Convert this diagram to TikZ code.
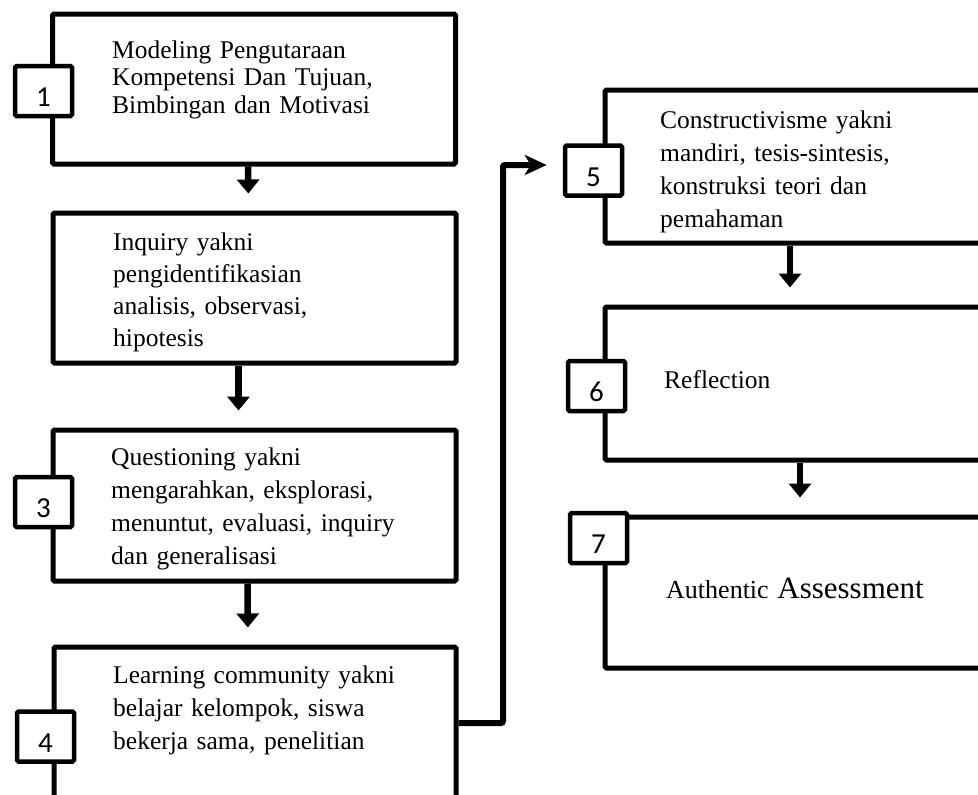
\documentclass[tikz,border=0pt]{standalone}
\usepackage{fontspec}
\setmainfont{Liberation Serif}
\newfontfamily\numfont{Carlito}
\usetikzlibrary{arrows.meta}

\begin{document}
\begin{tikzpicture}[x=1pt, y=-1pt,
    leftbox/.style={draw, line width=5pt, rounded corners=1.5pt, minimum width=403pt, minimum height=150pt, inner sep=0pt},
    rightbox/.style={draw, line width=5pt, rounded corners=1.5pt, minimum width=390pt, minimum height=153pt, inner sep=0pt},
    numbox/.style={draw, fill=white, line width=4.5pt, rounded corners=1.5pt, minimum width=57pt, minimum height=50pt, inner sep=0pt, text height=31pt, text depth=0pt, font=\numfont\fontsize{29}{30}\selectfont},
    steptext/.style={anchor=base west, align=left, inner sep=0pt, text width=330pt, font=\fontsize{25.5}{33}\selectfont},
    flow/.style={line width=6.5pt, -{Triangle[width=22pt,length=14pt]}, shorten >=17pt},
    link/.style={line width=6pt, rounded corners=2pt, -{Stealth[length=22pt,width=20pt,inset=6pt]}, shorten >=16pt}]
      \path [use as bounding box] (0,0) rectangle (978,795);
      \clip (0,0) rectangle (978,795);

      \node [leftbox] (box1) at (254,89) {};
      \node [leftbox] (box2) at (254.5,288) {};
      \node [leftbox, minimum height=151pt] (box3) at (254.5,505.5) {};
      \node [leftbox, minimum height=152pt, minimum width=402pt] (box4) at (255,723) {};
      \node [rightbox] (box5) at (800,166.5) {};
      \node [rightbox] (box6) at (800,383.5) {};
      \node [rightbox, minimum height=151pt] (box7) at (800,592.5) {};

      \node [steptext, font=\fontsize{25.5}{27.5}\selectfont] (text1) at (112,58) {Modeling Pengutaraan\\Kompetensi Dan Tujuan,\\Bimbingan dan Motivasi};
      \node [steptext, font=\fontsize{25.5}{32.2}\selectfont] (text2) at (113,250) {Inquiry yakni\\pengidentifikasian\\analisis, observasi,\\hipotesis};
      \node [steptext] (text3) at (111,465) {Questioning yakni\\mengarahkan, eksplorasi,\\menuntut, evaluasi, inquiry\\dan generalisasi};
      \node [steptext] (text4) at (113,683) {Learning community yakni\\belajar kelompok, siswa\\bekerja sama, penelitian};
      \node [steptext] (text5) at (660,128) {Constructivisme yakni\\mandiri, tesis-sintesis,\\konstruksi teori dan\\pemahaman};
      \node [steptext] (text6) at (664,388) {Reflection};
      \node [steptext, font=\fontsize{26}{33}\selectfont] (text7) at (666,598) {Authentic {\fontsize{31}{33}\selectfont Assessment}};

      \node [numbox] (num1) at (43.5,91) {1};
      \node [numbox] (num3) at (43.5,502) {3};
      \node [numbox] (num4) at (45.5,736.5) {4};
      \node [numbox] (num5) at (593.5,170.5) {5};
      \node [numbox] (num6) at (596.5,386) {6};
      \node [numbox] (num7) at (598.5,538) {7};

      \draw [flow] ([xshift=-6pt]box1.south) -- ([xshift=-6pt]box2.north);
      \draw [flow] ([xshift=-16pt]box2.south) -- ([xshift=-16pt]box3.north);
      \draw [flow] ([xshift=-7pt]box3.south) -- ([xshift=-7pt]box4.north);
      \draw [flow] ([xshift=-10pt]box5.south) -- ([xshift=-10pt]box6.north);
      \draw [flow] (box6.south) -- (box7.north);

      \coordinate (bend) at (503,165);
      \draw [link] (box4.east) -| (bend) -- (bend -| num5.west);
    \end{tikzpicture}
\end{document}
